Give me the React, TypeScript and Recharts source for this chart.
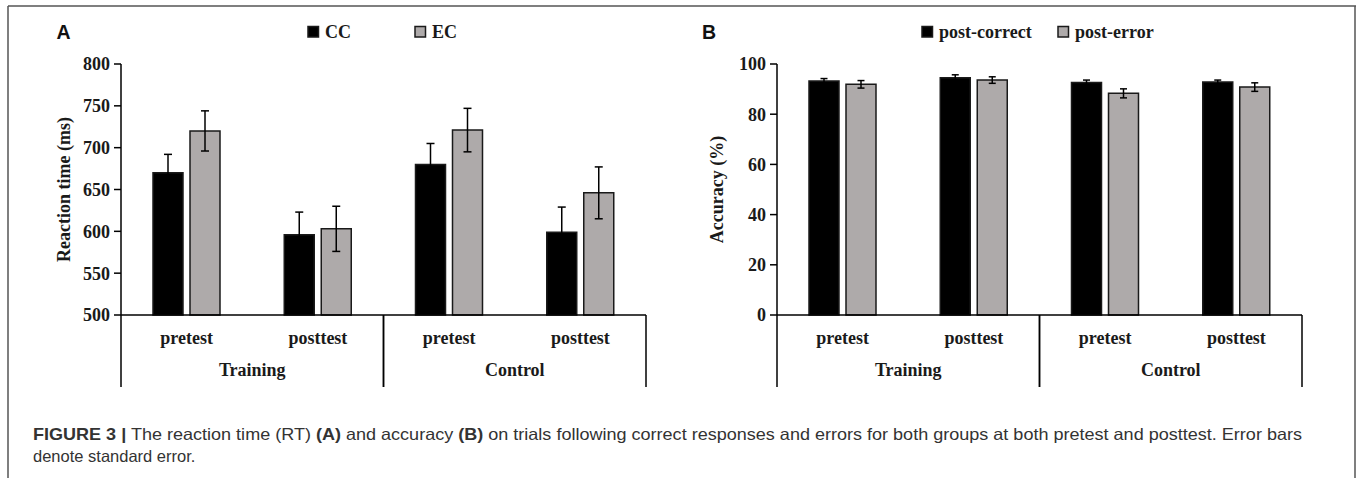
import React from 'react';
import { BarChart, Bar, XAxis, YAxis, ErrorBar } from 'recharts';

// ---------- data ----------
const phases = ['pretest', 'posttest', 'pretest', 'posttest'];
const groups = ['Training', 'Training', 'Control', 'Control'];

const rtSeriesNames = ['CC', 'EC'];
const rtCC = [670, 596, 680, 599];
const rtCCse = [22, 27, 25, 30];
const rtEC = [720, 603, 721, 646];
const rtECse = [24, 27, 26, 31];
const rtTicks = [500, 550, 600, 650, 700, 750, 800];

const accSeriesNames = ['post-correct', 'post-error'];
const accCorrect = [93.2, 94.5, 92.6, 92.8];
const accCorrectSe = [1.0, 1.2, 1.0, 0.8];
const accError = [91.9, 93.6, 88.3, 90.8];
const accErrorSe = [1.5, 1.3, 1.8, 1.7];
const accTicks = [0, 20, 40, 60, 80, 100];

const captionBold = 'FIGURE 3 |';
const captionLine1 = ' The reaction time (RT) ';
const captionLine1b = ' and accuracy ';
const captionLine1c =
  ' on trials following correct responses and errors for both groups at both pretest and posttest. Error bars';
const captionLine2 = 'denote standard error.';

// ---------- tables ----------
const rtData = phases.map((p, i) => ({
  key: `${groups[i]}-${p}`,
  a: rtCC[i],
  aSe: rtCCse[i],
  b: rtEC[i],
  bSe: rtECse[i],
}));
const accData = phases.map((p, i) => ({
  key: `${groups[i]}-${p}`,
  a: accCorrect[i],
  aSe: accCorrectSe[i],
  b: accError[i],
  bSe: accErrorSe[i],
}));

// ---------- style ----------
const SERIF = "'Liberation Serif', 'Times New Roman', serif";
const SANS = "'Liberation Sans', Arial, sans-serif";
const BLACK = '#000000';
const GREY = '#AEAAAA';
const EDGE = '#1a1a1a';
const TEXT = '#1a1a1a';
const PLOT_W = 525;
const HALF_BAND = PLOT_W / phases.length / 2;

const GroupTick = (props: any) => {
  const { x, y, index } = props;
  const i = index as number;
  return (
    <g>
      <text
        x={x}
        y={y + 29}
        textAnchor="middle"
        fontFamily={SERIF}
        fontWeight="bold"
        fontSize={18}
        fill={TEXT}
      >
        {phases[i]}
      </text>
      {i % 2 === 0 ? (
        <line x1={x - HALF_BAND} x2={x - HALF_BAND} y1={y} y2={y + 72} stroke={BLACK} strokeWidth={1.5} />
      ) : (
        <g>
          <line x1={x + HALF_BAND} x2={x + HALF_BAND} y1={y} y2={y + 72} stroke={BLACK} strokeWidth={1.5} />
          <text
            x={x - HALF_BAND}
            y={y + 61}
            textAnchor="middle"
            fontFamily={SERIF}
            fontWeight="bold"
            fontSize={18}
            fill={TEXT}
          >
            {groups[i]}
          </text>
        </g>
      )}
    </g>
  );
};

const Panel = ({
  data,
  domain,
  ticks,
  yLabel,
  marginLeft,
  marginRight,
  width,
  labelDx,
  capW,
}: any) => (
  <BarChart
    width={width}
    height={400}
    data={data}
    margin={{ top: 64, right: marginRight, bottom: 13, left: marginLeft }}
    barGap={7}
    barSize={30}
  >
    <XAxis
      dataKey="key"
      interval={0}
      tickLine={false}
      tickSize={0}
      tickMargin={0}
      height={72}
      axisLine={{ stroke: BLACK, strokeWidth: 1.5 }}
      tick={<GroupTick />}
    />
    <YAxis
      domain={domain}
      ticks={ticks}
      interval={0}
      width={60}
      tickSize={7}
      tickMargin={4}
      axisLine={{ stroke: BLACK, strokeWidth: 1.5 }}
      tickLine={{ stroke: BLACK, strokeWidth: 1.5 }}
      tick={{ fill: TEXT, fontSize: 18, fontWeight: 'bold', fontFamily: SERIF }}
      label={{
        value: yLabel,
        angle: -90,
        position: 'center',
        dx: labelDx,
        style: { fill: TEXT, fontSize: 18, fontWeight: 'bold', fontFamily: SERIF, textAnchor: 'middle' },
      }}
    />
    <Bar dataKey="a" fill={BLACK} stroke={EDGE} strokeWidth={1.5} isAnimationActive={false}>
      <ErrorBar dataKey="aSe" width={capW} stroke={BLACK} strokeWidth={1.5} direction="y" />
    </Bar>
    <Bar dataKey="b" fill={GREY} stroke={EDGE} strokeWidth={1.5} isAnimationActive={false}>
      <ErrorBar dataKey="bSe" width={capW} stroke={BLACK} strokeWidth={1.5} direction="y" />
    </Bar>
  </BarChart>
);

const LegendItem = ({ x, color, label }: any) => (
  <g>
    <rect x={x} y={26.5} width={10.5} height={10.5} fill={color} stroke={EDGE} strokeWidth={1.5} />
    <text x={x + 17} y={38} fontFamily={SERIF} fontWeight="bold" fontSize={18} fill={TEXT}>
      {label}
    </text>
  </g>
);

export default function App() {
  return (
    <div style={{ position: 'absolute', left: 0, top: 0, width: 1357, height: 478, background: '#fff', overflow: 'hidden' }}>
      <div style={{ position: 'absolute', left: 0, top: 0 }}>
        <Panel
          data={rtData}
          domain={[500, 800]}
          ticks={rtTicks}
          yLabel="Reaction time (ms)"
          width={680}
          marginLeft={61}
          marginRight={34}
          labelDx={-27}
          capW={4}
        />
      </div>
      <div style={{ position: 'absolute', left: 680, top: 0 }}>
        <Panel
          data={accData}
          domain={[0, 100]}
          ticks={accTicks}
          yLabel="Accuracy (%)"
          width={677}
          marginLeft={37}
          marginRight={55}
          labelDx={-30}
          capW={3.5}
        />
      </div>
      <svg
        width={1357}
        height={478}
        style={{ position: 'absolute', left: 0, top: 0, pointerEvents: 'none' }}
      >
        <line x1={8} y1={6} x2={1356} y2={6} stroke="#555" strokeWidth={1.5} />
        <line x1={8} y1={6} x2={8} y2={478} stroke="#555" strokeWidth={1.5} />
        <line x1={1355} y1={6} x2={1355} y2={478} stroke="#555" strokeWidth={1.5} />

        <text x={56.5} y={39} fontFamily={SANS} fontWeight="bold" fontSize={19.5} fill="#111">A</text>
        <text x={702} y={39} fontFamily={SANS} fontWeight="bold" fontSize={19.5} fill="#111">B</text>

        <LegendItem x={308} color={BLACK} label={rtSeriesNames[0]} />
        <LegendItem x={415} color={GREY} label={rtSeriesNames[1]} />
        <LegendItem x={922} color={BLACK} label={accSeriesNames[0]} />
        <LegendItem x={1058} color={GREY} label={accSeriesNames[1]} />

        <text x={33} y={440} fontFamily={SANS} fontSize={16.5} fill="#333" textLength={1269} lengthAdjust="spacingAndGlyphs">
          <tspan fontWeight="bold">{captionBold}</tspan>
          <tspan>{captionLine1}</tspan>
          <tspan fontWeight="bold">(A)</tspan>
          <tspan>{captionLine1b}</tspan>
          <tspan fontWeight="bold">(B)</tspan>
          <tspan>{captionLine1c}</tspan>
        </text>
        <text x={33} y={461.5} fontFamily={SANS} fontSize={16.5} fill="#333">
          {captionLine2}
        </text>
      </svg>
    </div>
  );
}
